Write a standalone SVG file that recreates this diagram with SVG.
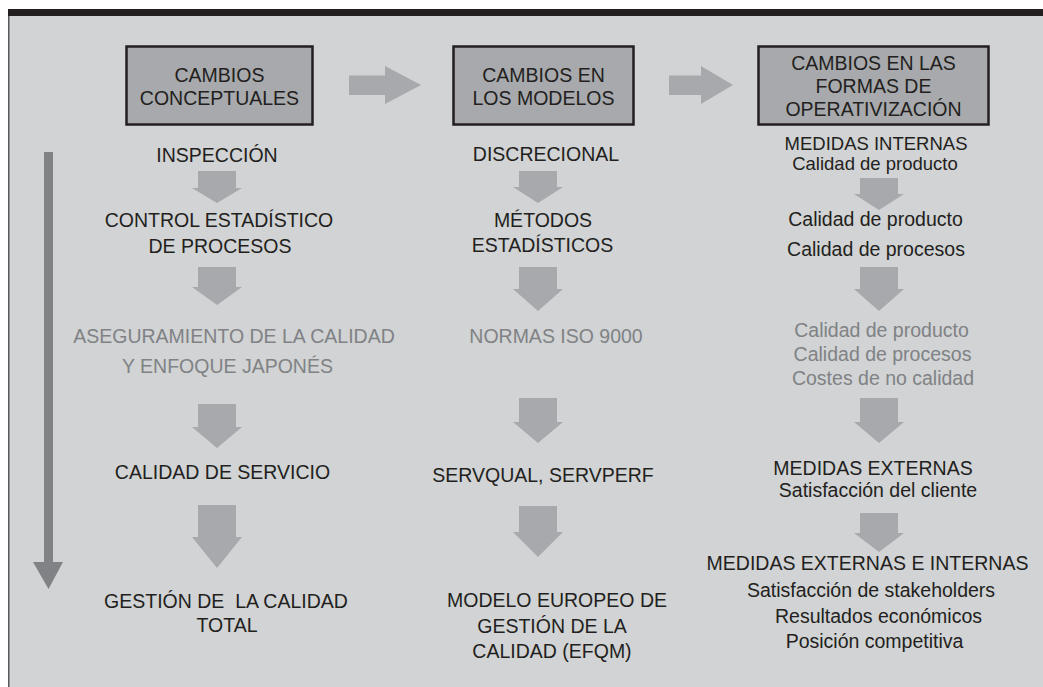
<svg xmlns="http://www.w3.org/2000/svg" width="1043" height="687" viewBox="0 0 1043 687">
<style>
  .t { font-family: "Liberation Sans", Arial, sans-serif; font-size: 19.5px; fill: #231f20; text-anchor: middle; white-space: pre; }
  .s { font-size: 18.5px; }
  .g { fill: #808285; }
  .box { fill: #a7a9ac; stroke: #231f20; stroke-width: 2.5; }
  .arr { fill: #a7a9ac; }
  .big { fill: #808285; }
</style>
<rect x="0" y="0" width="1043" height="687" fill="#ffffff"/>
<rect x="8.5" y="16" width="1040" height="680" fill="#d1d3d4"/>
<line x1="8.75" y1="16" x2="8.75" y2="687" stroke="#58595b" stroke-width="1.5"/>
<rect x="8" y="9" width="1035" height="7" fill="#231f20"/>

<g id="connectors">
  <path class="arr" d="M349,75.5 H385 V66 L421,85 L385,104 V95 H349 Z"/>
  <path class="arr" d="M669,75.5 H701 V66 L733,85 L701,104 V95 H669 Z"/>
  <path class="big" d="M44,152 H53 V562 H63 L48.5,589 L33,562 H44 Z"/>
  <path class="arr" d="M198,171 H236 V188 H242 L217,203 L192,188 H198 Z"/>
  <path class="arr" d="M198,267 H236 V287 H242 L217,305 L192,287 H198 Z"/>
  <path class="arr" d="M198,404 H236 V427 H242 L217,448 L192,427 H198 Z"/>
  <path class="arr" d="M198,505 H236 V537 H242 L217,568 L192,537 H198 Z"/>
  <path class="arr" d="M519,171 H557 V187 H563 L538,203 L513,187 H519 Z"/>
  <path class="arr" d="M519,267 H557 V289 H563 L538,311 L513,289 H519 Z"/>
  <path class="arr" d="M519,398 H557 V422 H563 L538,443 L513,422 H519 Z"/>
  <path class="arr" d="M519,506 H557 V532 H563 L538,557 L513,532 H519 Z"/>
  <path class="arr" d="M860,178 H898 V194 H904 L879,210 L854,194 H860 Z"/>
  <path class="arr" d="M860,267 H898 V289 H904 L879,311 L854,289 H860 Z"/>
  <path class="arr" d="M860,398 H898 V422 H904 L879,443 L854,422 H860 Z"/>
  <path class="arr" d="M860,513 H898 V533 H904 L879,552 L854,533 H860 Z"/>
</g>

<g id="h1">
  <rect class="box" x="126.5" y="46.5" width="186" height="78"/>
  <text class="t" x="219.5" y="82">CAMBIOS</text>
  <text class="t" x="219.5" y="105">CONCEPTUALES</text>
</g>
<g id="h2">
  <rect class="box" x="453.5" y="46.5" width="180" height="78"/>
  <text class="t" x="543.5" y="82">CAMBIOS EN</text>
  <text class="t" x="543.5" y="105">LOS MODELOS</text>
</g>
<g id="h3">
  <rect class="box" x="758.5" y="46.5" width="230" height="78"/>
  <text class="t" x="873.5" y="70">CAMBIOS EN LAS</text>
  <text class="t" x="873.5" y="93">FORMAS DE</text>
  <text class="t" x="873.5" y="115.5">OPERATIVIZACIÓN</text>
</g>

<g id="c1n1"><text class="t" x="217" y="162">INSPECCIÓN</text></g>
<g id="c1n2">
  <text class="t" x="219" y="227">CONTROL ESTADÍSTICO</text>
  <text class="t" x="220" y="253">DE PROCESOS</text>
</g>
<g id="c1n3">
  <text class="t g" x="234" y="343">ASEGURAMIENTO DE LA CALIDAD</text>
  <text class="t g" x="227.5" y="373">Y ENFOQUE JAPONÉS</text>
</g>
<g id="c1n4"><text class="t" x="222.5" y="479">CALIDAD DE SERVICIO</text></g>
<g id="c1n5">
  <text class="t" x="226" y="608">GESTIÓN DE  LA CALIDAD</text>
  <text class="t" x="227" y="632">TOTAL</text>
</g>

<g id="c2n1"><text class="t" x="546" y="161">DISCRECIONAL</text></g>
<g id="c2n2">
  <text class="t" x="543" y="227">MÉTODOS</text>
  <text class="t" x="542.5" y="252">ESTADÍSTICOS</text>
</g>
<g id="c2n3"><text class="t g" x="556" y="343">NORMAS ISO 9000</text></g>
<g id="c2n4"><text class="t" x="543" y="482">SERVQUAL, SERVPERF</text></g>
<g id="c2n5">
  <text class="t" x="557" y="607">MODELO EUROPEO DE</text>
  <text class="t" x="552" y="633">GESTIÓN DE LA</text>
  <text class="t" x="552" y="658">CALIDAD (EFQM)</text>
</g>

<g id="c3n1">
  <text class="t s" x="876" y="150">MEDIDAS INTERNAS</text>
  <text class="t s" x="875" y="169.5">Calidad de producto</text>
</g>
<g id="c3n2">
  <text class="t" x="875.5" y="226">Calidad de producto</text>
  <text class="t" x="876" y="256">Calidad de procesos</text>
</g>
<g id="c3n3">
  <text class="t g" x="881.5" y="337">Calidad de producto</text>
  <text class="t g" x="882.5" y="361">Calidad de procesos</text>
  <text class="t g" x="883" y="385">Costes de no calidad</text>
</g>
<g id="c3n4">
  <text class="t" x="873" y="475">MEDIDAS EXTERNAS</text>
  <text class="t" x="878" y="497">Satisfacción del cliente</text>
</g>
<g id="c3n5">
  <text class="t" x="867.5" y="570">MEDIDAS EXTERNAS E INTERNAS</text>
  <text class="t" x="871" y="597">Satisfacción de stakeholders</text>
  <text class="t" x="878.5" y="623">Resultados económicos</text>
  <text class="t" x="874.5" y="648">Posición competitiva</text>
</g>
</svg>
